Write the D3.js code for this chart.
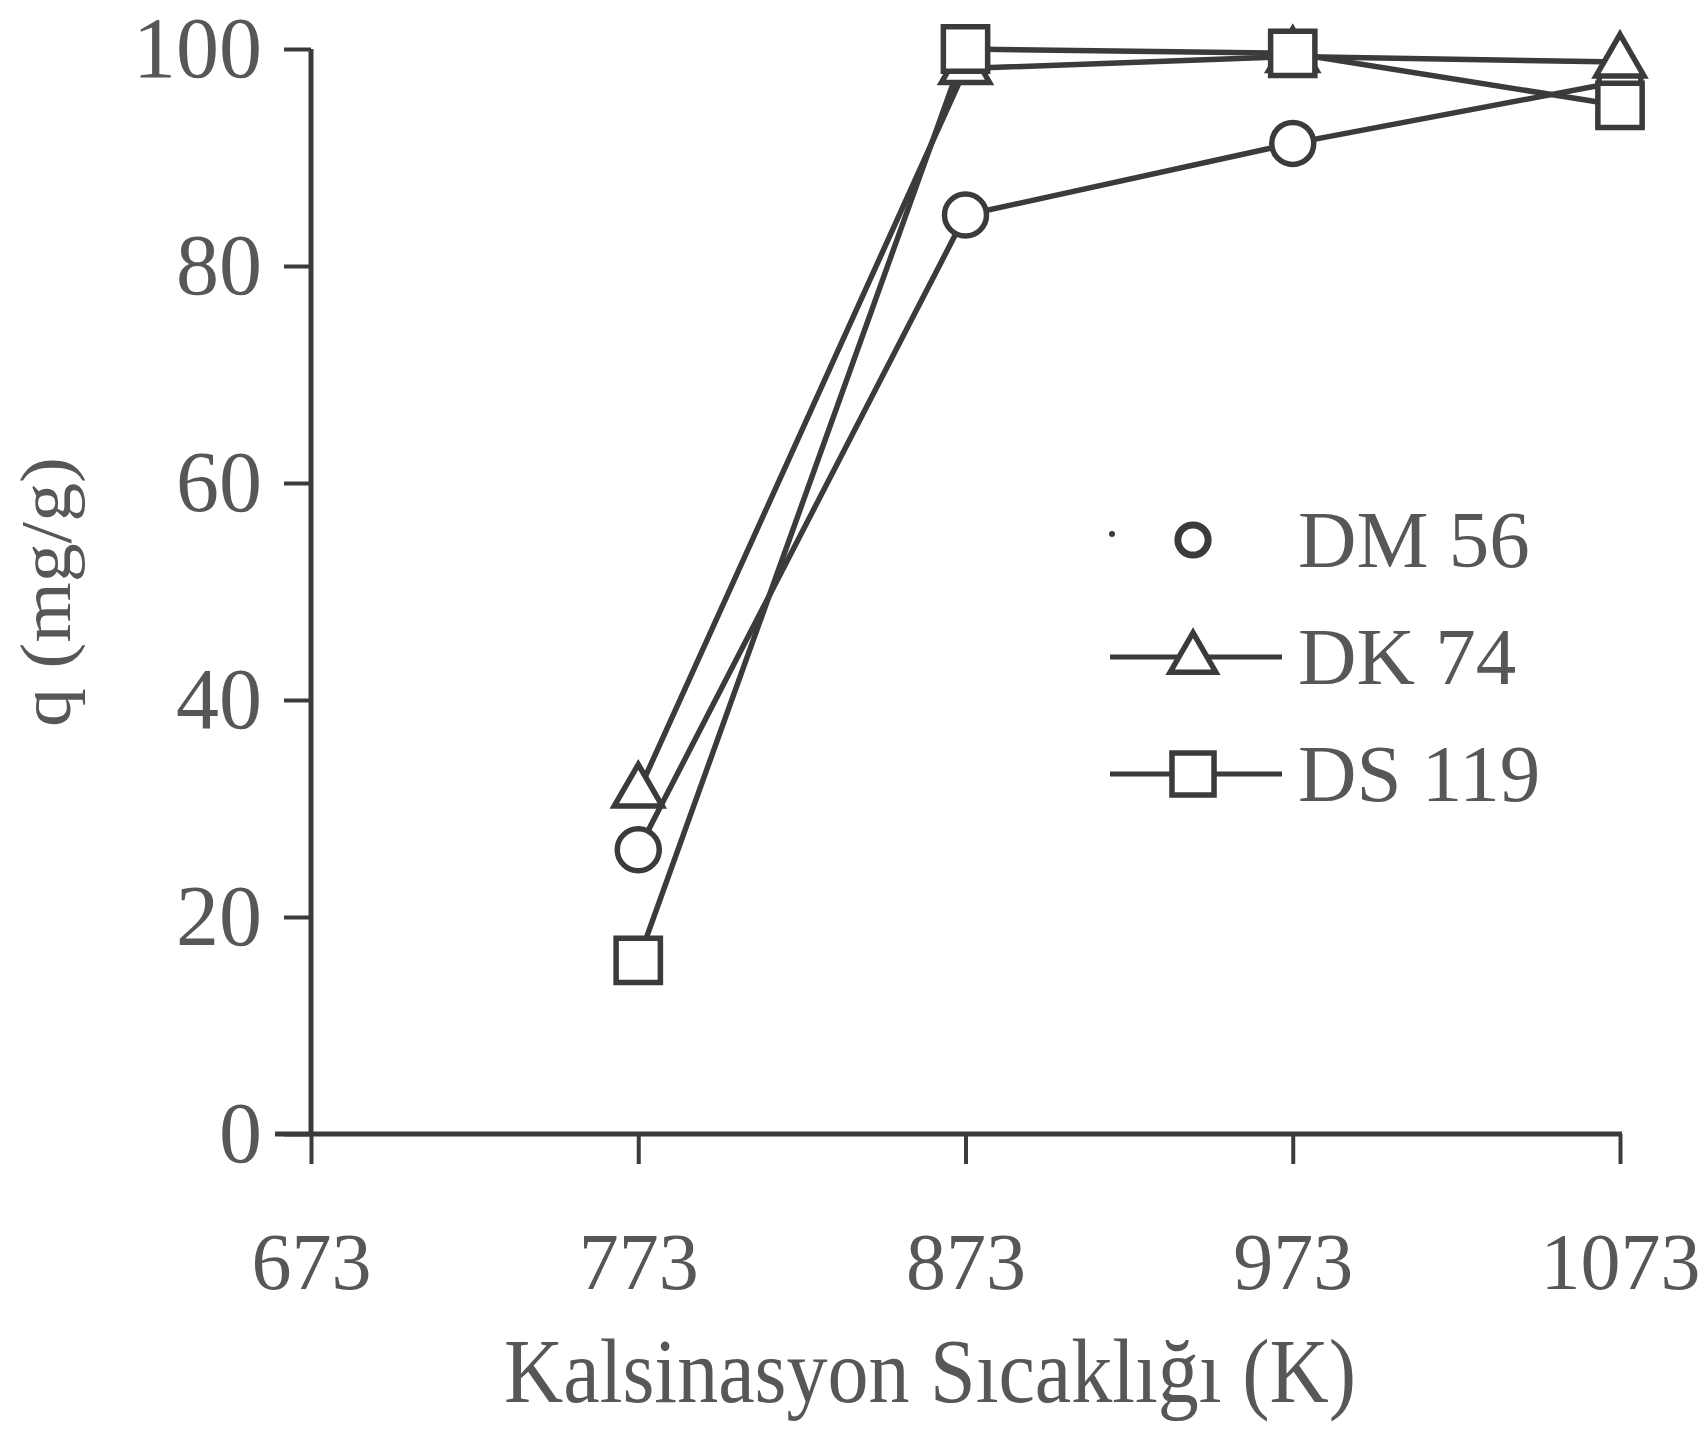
<!DOCTYPE html>
<html>
<head>
<meta charset="utf-8">
<script src="https://cdn.jsdelivr.net/npm/d3@7"></script>
<style>
  html, body { margin: 0; padding: 0; background: #fff; }
  svg { display: block; }
  text { font-family: "Liberation Serif", "DejaVu Serif", serif; fill: #575757; }
</style>
</head>
<body>
<svg id="chart" width="1702" height="1444"></svg>
<script>
// calcination temperatures (K)
var temps = [773, 873, 973, 1073];
var xTicks = [673, 773, 873, 973, 1073];
var yTicks = [0, 20, 40, 60, 80, 100];

// adsorbed amount q (mg/g)
var dm56 = [26.2, 84.7, 91.3, 97.0];
var dk74 = [31.5, 98.2, 99.3, 98.8];
var ds119 = [16.0, 100.0, 99.6, 94.8];

var seriesNames = ["DM 56", "DK 74", "DS 119"];
var seriesShapes = ["circle", "triangle", "square"];

var INK = "#3b3b3b";

var svg = d3.select("#chart");

var x = d3.scaleLinear().domain([673, 1073]).range([311, 1620]);
var y = d3.scaleLinear().domain([0, 100]).range([1134, 49]);

// axes
var xAxis = d3.axisBottom(x).tickValues(xTicks).tickSize(30).tickSizeOuter(0).tickPadding(68)
    .tickFormat(d3.format("d"));
var yAxis = d3.axisLeft(y).tickValues(yTicks).tickSize(27).tickSizeOuter(0).tickPadding(22);

var gx = svg.append("g").attr("transform", "translate(0," + y(0) + ")").call(xAxis);
var gy = svg.append("g").attr("transform", "translate(" + x(673) + ",0)").call(yAxis);

[gx, gy].forEach(function (g) {
    g.select(".domain").remove();
    g.selectAll(".tick line").attr("stroke", INK).attr("stroke-width", 4);
    g.selectAll(".tick text").style("fill", "#575757")
        .attr("font-family", "Liberation Serif, serif");
});
gx.selectAll(".tick text").attr("font-size", 80);
gy.selectAll(".tick text").attr("font-size", 86);

// axis lines, a little longer than the data range as in the print
svg.append("line")
    .attr("x1", x(673) - 36).attr("x2", x(1073) + 2)
    .attr("y1", y(0)).attr("y2", y(0))
    .attr("stroke", INK).attr("stroke-width", 5);
svg.append("line")
    .attr("x1", x(673)).attr("x2", x(673))
    .attr("y1", y(100)).attr("y2", y(0))
    .attr("stroke", INK).attr("stroke-width", 5);

// axis titles
svg.append("text")
    .attr("x", 930).attr("y", 1402)
    .attr("text-anchor", "middle")
    .attr("font-size", 92)
    .attr("textLength", 852)
    .attr("lengthAdjust", "spacingAndGlyphs")
    .text("Kalsinasyon Sıcaklığı (K)");

svg.append("text")
    .attr("transform", "translate(70,592) rotate(-90)")
    .attr("text-anchor", "middle")
    .attr("font-size", 72)
    .attr("textLength", 270)
    .attr("lengthAdjust", "spacingAndGlyphs")
    .text("q (mg/g)");

// markers
function marker(g, shape, cx, cy, scale) {
    var s = scale || 1;
    if (shape === "circle") {
        return g.append("circle").attr("cx", cx).attr("cy", cy).attr("r", 21 * s);
    }
    var sym = shape === "triangle" ? d3.symbolTriangle : d3.symbolSquare;
    var size = shape === "triangle" ? 1000 * s * s : 1960 * s * s;
    return g.append("path")
        .attr("d", d3.symbol().type(sym).size(size)())
        .attr("transform", "translate(" + cx + "," + cy + ")");
}

var series = [dm56, dk74, ds119];
var line = d3.line()
    .x(function (d, i) { return x(temps[i]); })
    .y(function (d) { return y(d); });

var plot = svg.append("g");
series.forEach(function (vals) {
    plot.append("path")
        .datum(vals)
        .attr("d", line)
        .attr("fill", "none")
        .attr("stroke", INK)
        .attr("stroke-width", 5.5);
});
series.forEach(function (vals, k) {
    var g = plot.append("g").attr("fill", "#fff").attr("stroke", INK).attr("stroke-width", 5.5);
    vals.forEach(function (v, i) {
        marker(g, seriesShapes[k], x(temps[i]), y(v));
    });
});

// legend
var legend = svg.append("g");
var rowY = [540, 657, 774];
seriesNames.forEach(function (name, k) {
    var cy = rowY[k];
    if (k === 0) {
        legend.append("circle").attr("cx", 1112).attr("cy", cy - 6).attr("r", 3).attr("fill", INK);
    } else {
        legend.append("line")
            .attr("x1", 1110).attr("x2", 1282)
            .attr("y1", cy).attr("y2", cy)
            .attr("stroke", INK).attr("stroke-width", 5);
    }
    var g = legend.append("g").attr("fill", "#fff").attr("stroke", INK)
        .attr("stroke-width", k === 0 ? 7 : 5.5);
    marker(g, seriesShapes[k], 1193, cy + (k === 1 ? 2 : 0), k === 0 ? 0.72 : 0.95);
    legend.append("text")
        .attr("x", 1298).attr("y", cy + 27)
        .attr("font-size", 81)
        .text(name);
});
</script>
</body>
</html>
